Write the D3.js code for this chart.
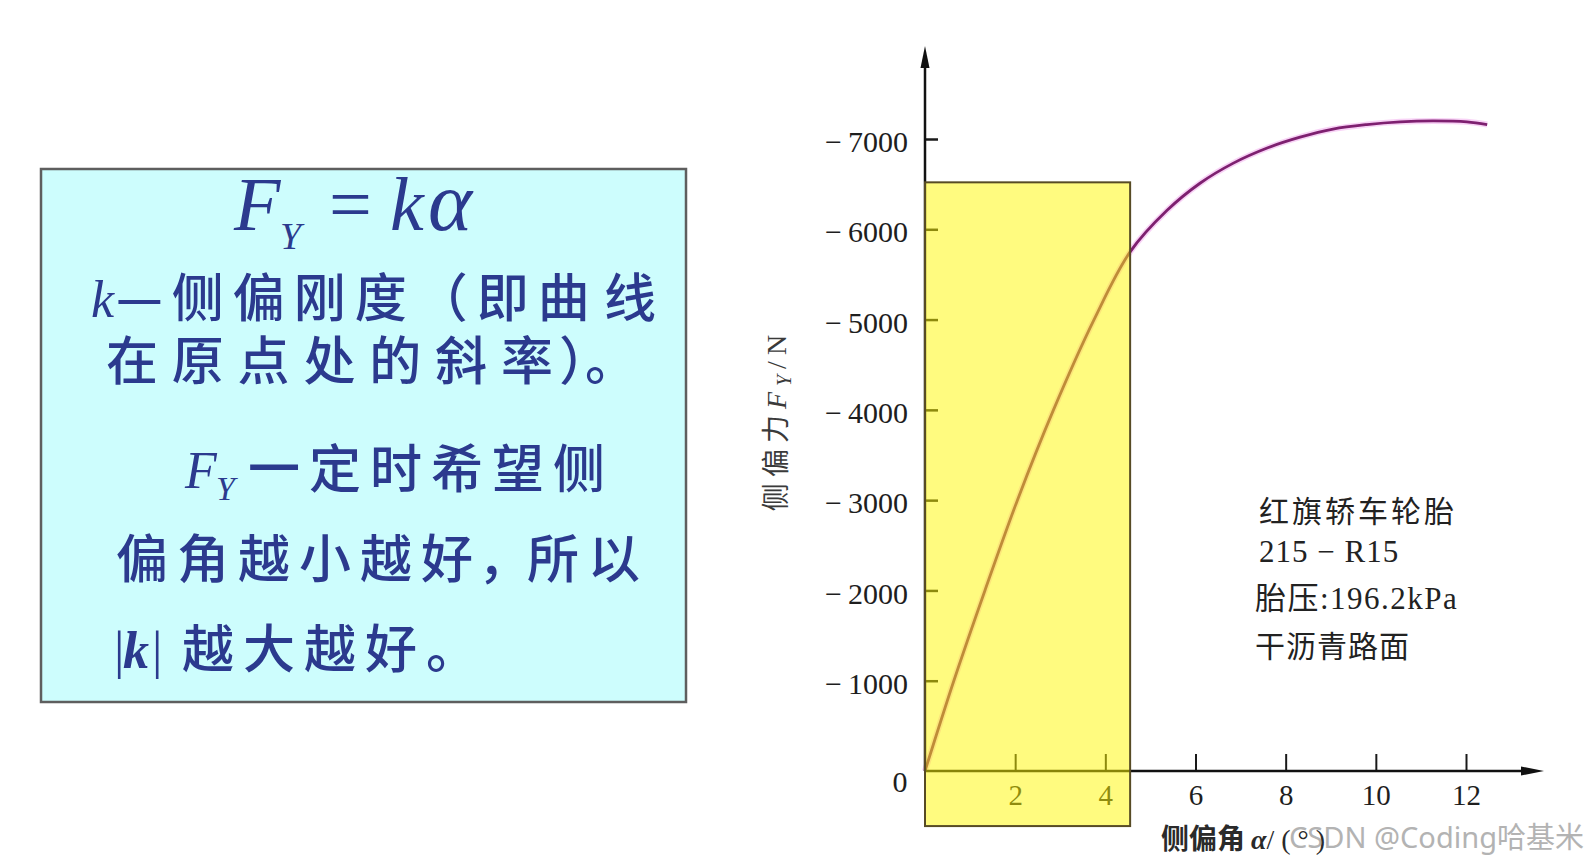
<!DOCTYPE html>
<html>
<head>
<meta charset="utf-8">
<script src="https://cdn.jsdelivr.net/npm/d3@7"></script>
<style>
  body { margin: 0; background: #fff; }
  svg { display: block; }
  .halt { font-feature-settings: "halt"; }
</style>
</head>
<body>
<script>
// tyre cornering curve: slip angle (deg) vs lateral force (N)
var slipAngle    = [0, 0.64, 1.33, 2.05, 2.85, 3.75, 4.55, 5.37, 6.1, 6.83, 7.59, 8.32, 9.05, 9.8, 10.54, 11.27, 12.02, 12.47];
var lateralForce = [0, -1000, -2000, -3000, -4000, -5000, -5750, -6210, -6510, -6730, -6900, -7020, -7110, -7160, -7190, -7200, -7190, -7160];

var yTicks = [-1000, -2000, -3000, -4000, -5000, -6000, -7000];
var xTicks = [2, 4, 6, 8, 10, 12];

// yellow box = the near linear zone
var boxAngle = [0, 4.55];
var boxForce = [610, -6520];

var noteLines = ['红旗轿车轮胎', '215 − R15', '胎压:196.2kPa', '干沥青路面'];

var serif = '"Liberation Serif", "Times New Roman", serif';
var cjk = '"Noto Sans CJK SC", sans-serif';
var mixed = '"Liberation Serif", "Noto Sans CJK SC", serif';
var navy = '#2b3a8e';

var W = 1588, H = 862;
var svg = d3.select('body').append('svg').attr('width', W).attr('height', H);
svg.append('rect').attr('width', W).attr('height', H).attr('fill', '#fff');

// ---------- left: text panel ----------
var panel = svg.append('g');
panel.append('rect')
  .attr('x', 41).attr('y', 169).attr('width', 645).attr('height', 533)
  .attr('fill', '#cdfdfd').attr('stroke', '#5e5e5e').attr('stroke-width', 2.5);

var formula = panel.append('text').attr('fill', navy)
  .attr('font-family', serif).attr('font-style', 'italic').attr('font-size', 76);
formula.append('tspan').attr('x', 234).attr('y', 230).text('F');
formula.append('tspan').attr('x', 280).attr('y', 249).attr('font-size', 38).text('Y');
formula.append('tspan').attr('x', 329).attr('y', 230).attr('font-style', 'normal').text('=');
formula.append('tspan').attr('x', 390).attr('y', 230).text('k');
formula.append('tspan').attr('x', 428).attr('y', 230).attr('font-size', 84).text('α');

var l1 = panel.append('text').attr('fill', navy).attr('font-size', 52).attr('y', 317);
l1.append('tspan').attr('x', 91).attr('font-family', serif).attr('font-style', 'italic').text('k');
l1.append('tspan').attr('x', 116).attr('font-family', cjk).attr('font-weight', 500)
  .attr('letter-spacing', 9).text('—侧偏刚度（即曲');
l1.append('tspan').attr('x', 604).attr('font-family', cjk).attr('font-weight', 500).text('线');

var l2 = panel.append('text').attr('fill', navy).attr('font-size', 52).attr('font-family', cjk)
  .attr('font-weight', 500).attr('y', 380);
l2.append('tspan').attr('x', 106).attr('letter-spacing', 13.8).text('在原点处的斜');
l2.append('tspan').attr('x', 501).text('率');
l2.append('tspan').attr('x', 559).attr('class', 'halt').text('）。');

var l3 = panel.append('text').attr('fill', navy).attr('font-size', 52).attr('y', 488);
l3.append('tspan').attr('x', 185).attr('font-family', serif).attr('font-style', 'italic').text('F');
l3.append('tspan').attr('x', 216).attr('dy', 12).attr('font-family', serif).attr('font-style', 'italic')
  .attr('font-size', 34).text('Y');
l3.append('tspan').attr('x', 248).attr('dy', -12).attr('font-family', cjk).attr('font-weight', 500)
  .attr('letter-spacing', 9).text('一定时希望侧');

var l4 = panel.append('text').attr('fill', navy).attr('font-size', 52).attr('font-family', cjk)
  .attr('font-weight', 500).attr('y', 578);
l4.append('tspan').attr('x', 116).attr('letter-spacing', 9).text('偏角越小越好');
l4.append('tspan').attr('x', 478).text('，');
l4.append('tspan').attr('x', 527).attr('letter-spacing', 9).text('所以');

var l5 = panel.append('text').attr('fill', navy).attr('font-size', 52).attr('y', 668);
l5.append('tspan').attr('x', 114).attr('font-family', serif).text('|');
l5.append('tspan').attr('x', 123).attr('font-family', serif).attr('font-style', 'italic')
  .attr('font-weight', 'bold').text('k');
l5.append('tspan').attr('x', 152).attr('font-family', serif).text('|');
l5.append('tspan').attr('x', 182).attr('font-family', cjk).attr('font-weight', 500)
  .attr('letter-spacing', 9).text('越大越好。');

// ---------- right: F_Y vs alpha chart ----------
var x = d3.scaleLinear().domain([0, 12]).range([925, 1466]);
var y = d3.scaleLinear().domain([0, -7000]).range([771, 139]);

var chart = svg.append('g');

// curve (drawn under the translucent yellow box)
var pts = slipAngle.map(function(a, i) { return [a, lateralForce[i]]; });
var line = d3.line()
  .x(function(d) { return x(d[0]); })
  .y(function(d) { return y(d[1]); })
  .curve(d3.curveCatmullRom.alpha(0.5));

chart.append('path').datum(pts).attr('d', line)
  .attr('fill', 'none').attr('stroke', '#f2a6ee').attr('stroke-width', 6).attr('opacity', 0.5);
chart.append('path').datum(pts).attr('d', line)
  .attr('fill', 'none').attr('stroke', '#7e2070').attr('stroke-width', 2.8);

// y axis
var yAxis = d3.axisLeft(y).tickValues(yTicks)
  .tickSizeInner(-13).tickSizeOuter(0).tickPadding(17)
  .tickFormat(function(d) { return '\u2212\u2009' + Math.abs(d); });
var gy = chart.append('g').attr('transform', 'translate(' + x(0) + ',0)').call(yAxis);
gy.select('.domain').remove();
gy.selectAll('line').attr('stroke', '#1a1a1a').attr('stroke-width', 2.5);
gy.selectAll('text').attr('font-family', serif).attr('font-size', 30).attr('fill', '#1e1e1e').attr('dy', '0.42em');

// x axis
var xAxis = d3.axisBottom(x).tickValues(xTicks)
  .tickSizeInner(-17).tickSizeOuter(0).tickPadding(13);
var gx = chart.append('g').attr('transform', 'translate(0,' + y(0) + ')').call(xAxis);
gx.select('.domain').remove();
gx.selectAll('line').attr('stroke', '#1a1a1a').attr('stroke-width', 2);
gx.selectAll('text').attr('font-family', serif).attr('font-size', 29).attr('fill', '#1e1e1e');

chart.append('text').attr('x', 900).attr('y', y(0) + 21)
  .attr('text-anchor', 'middle').attr('font-family', serif).attr('font-size', 30)
  .attr('fill', '#1e1e1e').text('0');

// axis lines with arrows
chart.append('line').attr('x1', x(0)).attr('y1', y(0)).attr('x2', x(0)).attr('y2', 62)
  .attr('stroke', '#111').attr('stroke-width', 2.5);
chart.append('path').attr('d', 'M' + x(0) + ',46 L' + (x(0) - 4.5) + ',68 L' + (x(0) + 4.5) + ',68 Z')
  .attr('fill', '#111');
chart.append('line').attr('x1', x(0)).attr('y1', y(0)).attr('x2', 1528).attr('y2', y(0))
  .attr('stroke', '#111').attr('stroke-width', 2.5);
chart.append('path').attr('d', 'M1544,' + y(0) + ' L1521,' + (y(0) - 4.5) + ' L1521,' + (y(0) + 4.5) + ' Z')
  .attr('fill', '#111');

// axis titles
var yt = chart.append('text')
  .attr('transform', 'translate(786,420) rotate(-90)')
  .attr('text-anchor', 'middle').attr('font-size', 28).attr('fill', '#3a3a3a')
  .attr('letter-spacing', 6);
yt.append('tspan').attr('font-family', cjk).text('侧偏力');
yt.append('tspan').attr('font-family', serif).attr('font-style', 'italic').text('F');
yt.append('tspan').attr('font-family', serif).attr('font-style', 'italic').attr('font-size', 20).attr('dy', 5).text('Y');
yt.append('tspan').attr('font-family', serif).attr('dy', -5).text('/N');

var xt = chart.append('text').attr('x', 1161).attr('y', 849)
  .attr('font-size', 28).attr('fill', '#2a2a2a').attr('font-weight', 'bold');
xt.append('tspan').attr('font-family', cjk).text('侧偏角');
xt.append('tspan').attr('font-family', serif).attr('font-style', 'italic').attr('dx', 6).text('α');
xt.append('tspan').attr('font-family', serif).attr('font-weight', 'normal').attr('letter-spacing', 7).text('/(°)');

// tyre note
chart.selectAll('text.note').data(noteLines).enter().append('text')
  .attr('class', 'note')
  .attr('x', function(d, i) { return i < 2 ? 1259 : 1255; })
  .attr('y', function(d, i) { return [522, 562, 609, 657][i]; })
  .attr('font-family', mixed).attr('font-size', function(d, i) { return i === 1 || i === 2 ? 31 : 30; })
  .attr('fill', '#222')
  .attr('letter-spacing', function(d, i) { return i === 0 ? 3 : (i === 2 ? 1.5 : 1); })
  .text(function(d) { return d; });

// translucent yellow box over the linear zone
chart.append('rect')
  .attr('x', x(boxAngle[0])).attr('y', y(boxForce[1]))
  .attr('width', x(boxAngle[1]) - x(boxAngle[0]))
  .attr('height', y(boxForce[0]) - y(boxForce[1]))
  .attr('fill', '#fff800').attr('fill-opacity', 0.5)
  .attr('stroke', '#574b25').attr('stroke-width', 2);

// watermark
svg.append('text').attr('x', 1584).attr('y', 848).attr('text-anchor', 'end')
  .attr('font-family', '"Noto Sans", "Noto Sans CJK SC", sans-serif').attr('font-size', 29)
  .attr('fill', '#9a9a9a').attr('opacity', 0.75).text('CSDN @Coding哈基米');
</script>
</body>
</html>
